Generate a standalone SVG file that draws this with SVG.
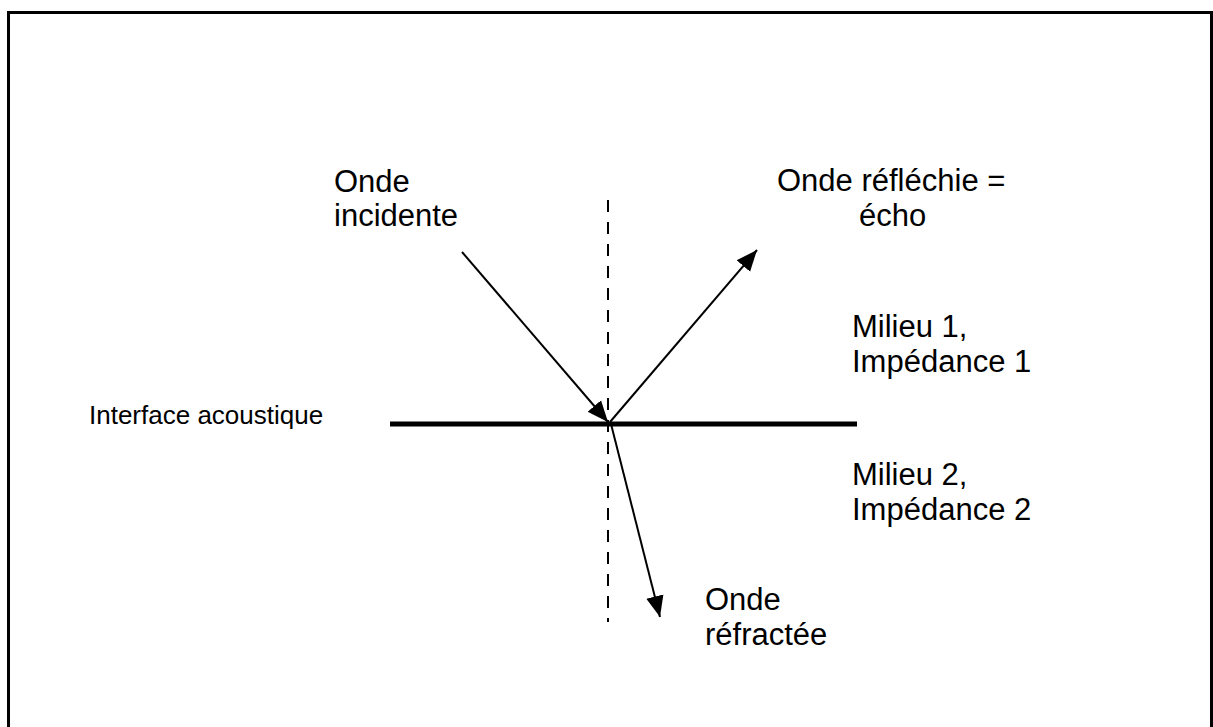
<svg xmlns="http://www.w3.org/2000/svg" width="1213" height="727" viewBox="0 0 1213 727">
<style>
.t{font-family:"Liberation Sans",Arial,sans-serif;font-size:31px;fill:#000}
.s{font-family:"Liberation Sans",Arial,sans-serif;font-size:26px;fill:#000}
.w{stroke:#000;stroke-width:2;fill:none}
</style>
<defs>
<marker id="ah2" viewBox="0 0 10 10" refX="10" refY="5" markerWidth="21" markerHeight="21" markerUnits="userSpaceOnUse" orient="auto"><path d="M0,0.8 L10,5 L0,9.2 z" fill="#000"/></marker>
</defs>
<rect width="1213" height="727" fill="#fff"/>
<rect id="frame" x="8.5" y="12.5" width="1203" height="730" fill="none" stroke="#000" stroke-width="3"/>
<g id="normal"><line x1="608" y1="200" x2="608" y2="622" stroke="#000" stroke-width="2" stroke-dasharray="12,10"/></g>
<g id="interface"><line x1="390" y1="424" x2="857" y2="424" stroke="#000" stroke-width="5"/></g>
<g id="connectors">
<line class="w" x1="462" y1="252" x2="608" y2="422" marker-end="url(#ah2)"/>
<line class="w" x1="610" y1="422" x2="757" y2="250" marker-end="url(#ah2)"/>
<line class="w" x1="611" y1="424" x2="660" y2="617" marker-end="url(#ah2)"/>
</g>
<g id="label-incidente"><text class="t" x="334" y="192">Onde</text><text class="t" x="334" y="226">incidente</text></g>
<g id="label-reflechie"><text class="t" x="777" y="191">Onde réfléchie =</text><text class="t" x="859" y="226">écho</text></g>
<g id="label-milieu1"><text class="t" x="852" y="337">Milieu 1,</text><text class="t" x="852" y="372">Impédance 1</text></g>
<g id="label-interface"><text class="s" x="89" y="424">Interface acoustique</text></g>
<g id="label-milieu2"><text class="t" x="852" y="485">Milieu 2,</text><text class="t" x="852" y="520">Impédance 2</text></g>
<g id="label-refractee"><text class="t" x="705" y="610">Onde</text><text class="t" x="705" y="645">réfractée</text></g>
</svg>
